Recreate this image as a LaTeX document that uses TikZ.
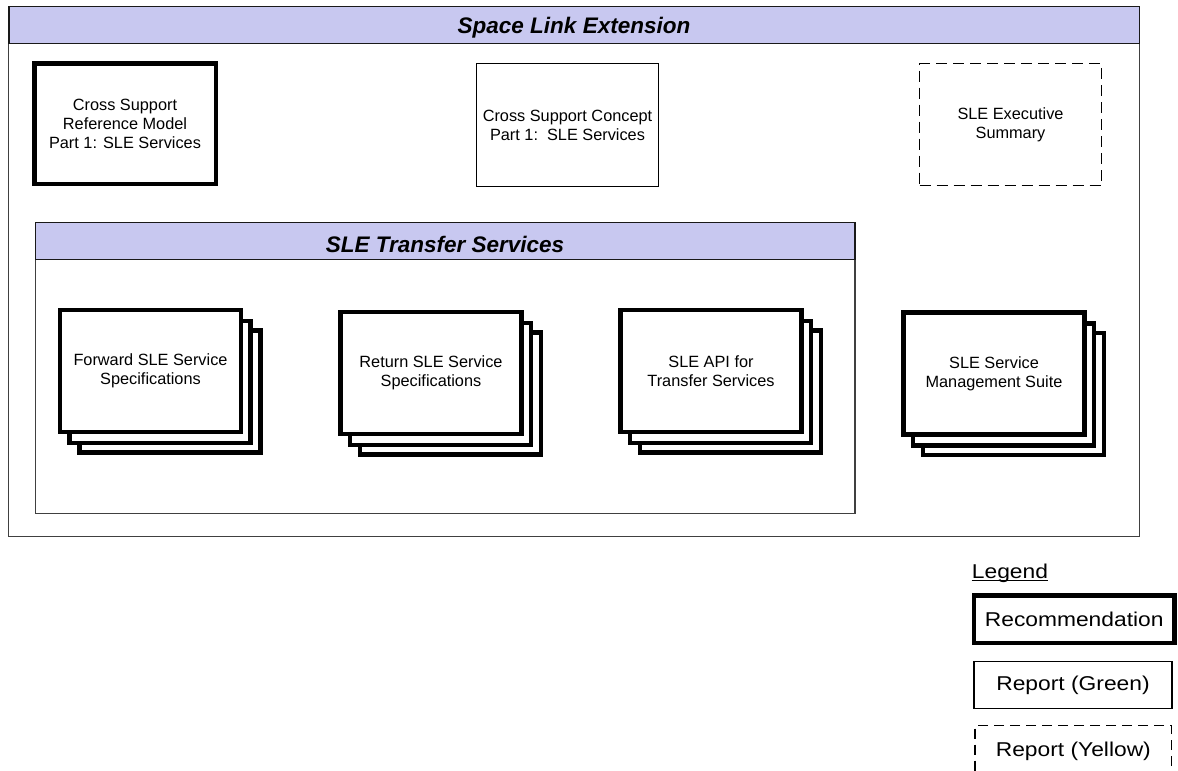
\documentclass[tikz,border=0pt]{standalone}
\usepackage{fontspec}
\setmainfont{Liberation Sans}
\newfontfamily\legendfont{Liberation Sans}[FakeStretch=1.14]
\definecolor{headblue}{RGB}{200,200,240}

\begin{document}
\begin{tikzpicture}[x=1pt, y=-1pt]
% Styles
\tikzset{
    panel/.style={draw=black!75, line width=1.2pt, inner sep=0pt},
    header/.style={draw=black!90, line width=1.5pt, fill=headblue, inner sep=0pt, text depth=0pt,
        font=\fontsize{22.5}{27}\selectfont\bfseries\itshape},
    doc/.style={draw, fill=white, align=center, inner sep=0pt, font=\fontsize{16.3}{19}\selectfont},
    recbox/.style={doc, line width=4.5pt},
    greenbox/.style={doc, line width=1.2pt},
    yellowbox/.style={doc, line width=1.3pt, dash pattern=on 11pt off 6pt},
    suite/.style={doc, line width=4.2pt, minimum width=181pt, minimum height=122pt},
    legtext/.style={inner sep=0pt, font=\fontsize{20}{24}\selectfont\legendfont},
    legbox/.style={draw, fill=white, inner sep=0pt, legtext}
}
\useasboundingbox (0,0) rectangle (1178,771);

% Frames
\node[panel, minimum width=1130.8pt, minimum height=529.8pt] (SLE) at (574,271.2) {};
\node[header, text height=17pt, minimum width=1130.5pt, minimum height=36.8pt] (SLEhead) at (574,24.85) {Space Link Extension};
\node[panel, minimum width=819.8pt, minimum height=291.1pt] (XFER) at (445,367.85) {};
\node[header, text height=24pt, minimum width=819.5pt, minimum height=36.8pt] (XFERhead) at (445,240.85) {SLE Transfer Services};

% Documents
\node[recbox, minimum width=181.5pt, minimum height=120.5pt] (CSRM) at (125,123.5)
    {Cross Support\\Reference Model\\Part 1: SLE Services};
\node[greenbox, minimum width=182pt, minimum height=123pt] (CSC) at (567.5,125)
    {Cross Support Concept\\Part 1:\ \ SLE Services};
\node[yellowbox, minimum width=182pt, minimum height=122pt] (EXEC) at (1010.5,124.5)
    {SLE Executive\\Summary};

% Suites
\node[suite] (FWD3) at (170,391.5) {};
\node[suite] (FWD2) at (160,382) {};
\node[suite] (FWD) at (150.5,371) {Forward SLE Service\\Specifications};

\node[suite] (RTN3) at (450.5,393.5) {};
\node[suite] (RTN2) at (440.5,384) {};
\node[suite] (RTN) at (431,373) {Return SLE Service\\Specifications};

\node[suite] (API3) at (730.5,391.5) {};
\node[suite] (API2) at (720.5,382) {};
\node[suite] (API) at (711,371) {SLE API for\\Transfer Services};

\node[suite] (MGMT3) at (1013.5,394) {};
\node[suite] (MGMT2) at (1003.5,384.5) {};
\node[suite] (MGMT) at (994,373.5) {SLE Service\\Management Suite};

% Legend
\node[legtext, anchor=base west] (LEG) at (971.7,578.3) {Legend};
\draw[line width=1pt] ([yshift=-2pt]LEG.base west) -- ([yshift=-2pt]LEG.base east);
\node[legbox, line width=4.5pt, minimum width=200.5pt, minimum height=47.2pt] (LEGrec) at (1074.2,619.2) {Recommendation};
\node[legbox, line width=1.2pt, minimum width=198pt, minimum height=47pt] (LEGgreen) at (1073,685.2) {Report (Green)};
\node[legbox, line width=1.3pt, dash pattern=on 10.5pt off 5.5pt, minimum width=196.7pt, minimum height=51.7pt] (LEGyellow) at (1073.3,751.5) {Report (Yellow)};
\end{tikzpicture}
\end{document}
